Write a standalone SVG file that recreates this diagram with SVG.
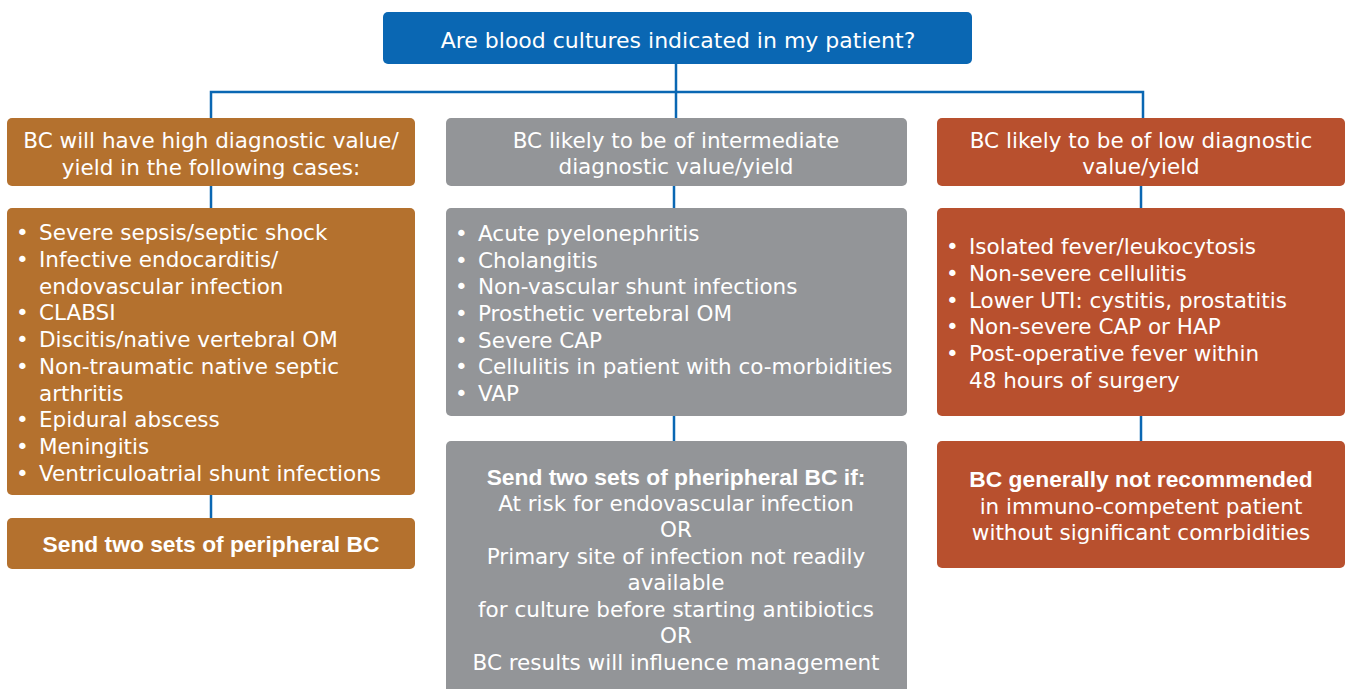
<svg xmlns="http://www.w3.org/2000/svg" width="1347" height="689" viewBox="0 0 1347 689">
  <style>
    .box { stroke: none; }
    .blue { fill: #0a67b3; }
    .high { fill: #b4712e; }
    .mid { fill: #939598; }
    .low { fill: #b8502e; }
    text { font-family: "DejaVu Sans", Verdana, sans-serif; font-size: 21.5px; fill: #ffffff; }
    .c { text-anchor: middle; }
    .q { font-size: 22px; }
    .b { font-family: "Liberation Sans", Arial, sans-serif; font-weight: bold; font-size: 22.8px; }
    .conn { stroke: #0a67b3; stroke-width: 2.5; fill: none; }
  </style>
  <rect width="1347" height="689" fill="#ffffff"/>

  <!-- connectors -->
  <g id="connectors">
    <path class="conn" d="M676 64 V118 M211 118 V92 H1143 V118"/>
    <path class="conn" d="M211 186 V208 M674 186 V208 M1141 186 V208"/>
    <path class="conn" d="M211 495 V518 M674 416 V441 M1141 416 V441"/>
  </g>

  <g id="question">
    <rect class="box blue" x="383" y="12" width="589" height="52" rx="5"/>
    <text class="c q" x="678" y="48">Are blood cultures indicated in my patient?</text>
  </g>

  <!-- high yield column -->
  <g id="high-header">
    <rect class="box high" x="7" y="118" width="408" height="68" rx="5"/>
    <text class="c" x="211" y="148">BC will have high diagnostic value/</text>
    <text class="c" x="211" y="175">yield in the following cases:</text>
  </g>
  <g id="high-list">
    <rect class="box high" x="7" y="208" width="408" height="287" rx="5"/>
    <text x="16" y="240">•</text><text x="39" y="240">Severe sepsis/septic shock</text>
    <text x="16" y="267">•</text><text x="39" y="267">Infective endocarditis/</text>
    <text x="39" y="294">endovascular infection</text>
    <text x="16" y="320">•</text><text x="39" y="320">CLABSI</text>
    <text x="16" y="347">•</text><text x="39" y="347">Discitis/native vertebral OM</text>
    <text x="16" y="374">•</text><text x="39" y="374">Non-traumatic native septic</text>
    <text x="39" y="401">arthritis</text>
    <text x="16" y="427">•</text><text x="39" y="427">Epidural abscess</text>
    <text x="16" y="454">•</text><text x="39" y="454">Meningitis</text>
    <text x="16" y="481">•</text><text x="39" y="481">Ventriculoatrial shunt infections</text>
  </g>
  <g id="high-action">
    <rect class="box high" x="7" y="518" width="408" height="51" rx="5"/>
    <text class="c b" x="211" y="552">Send two sets of peripheral BC</text>
  </g>

  <!-- intermediate yield column -->
  <g id="mid-header">
    <rect class="box mid" x="446" y="118" width="461" height="68" rx="5"/>
    <text class="c" x="676" y="148">BC likely to be of intermediate</text>
    <text class="c" x="676" y="174">diagnostic value/yield</text>
  </g>
  <g id="mid-list">
    <rect class="box mid" x="446" y="208" width="461" height="208" rx="5"/>
    <text x="455" y="241">•</text><text x="478" y="241">Acute pyelonephritis</text>
    <text x="455" y="268">•</text><text x="478" y="268">Cholangitis</text>
    <text x="455" y="294">•</text><text x="478" y="294">Non-vascular shunt infections</text>
    <text x="455" y="321">•</text><text x="478" y="321">Prosthetic vertebral OM</text>
    <text x="455" y="348">•</text><text x="478" y="348">Severe CAP</text>
    <text x="455" y="374">•</text><text x="478" y="374">Cellulitis in patient with co-morbidities</text>
    <text x="455" y="401">•</text><text x="478" y="401">VAP</text>
  </g>
  <g id="mid-action">
    <rect class="box mid" x="446" y="441" width="461" height="260" rx="5"/>
    <text class="c b" x="676" y="485">Send two sets of pheripheral BC if:</text>
    <text class="c" x="676" y="511">At risk for endovascular infection</text>
    <text class="c" x="676" y="537">OR</text>
    <text class="c" x="676" y="564">Primary site of infection not readily</text>
    <text class="c" x="676" y="590">available</text>
    <text class="c" x="676" y="617">for culture before starting antibiotics</text>
    <text class="c" x="676" y="643">OR</text>
    <text class="c" x="676" y="670">BC results will influence management</text>
  </g>

  <!-- low yield column -->
  <g id="low-header">
    <rect class="box low" x="937" y="118" width="408" height="68" rx="5"/>
    <text class="c" x="1141" y="148">BC likely to be of low diagnostic</text>
    <text class="c" x="1141" y="174">value/yield</text>
  </g>
  <g id="low-list">
    <rect class="box low" x="937" y="208" width="408" height="208" rx="5"/>
    <text x="946" y="254">•</text><text x="969" y="254">Isolated fever/leukocytosis</text>
    <text x="946" y="281">•</text><text x="969" y="281">Non-severe cellulitis</text>
    <text x="946" y="308">•</text><text x="969" y="308">Lower UTI: cystitis, prostatitis</text>
    <text x="946" y="334">•</text><text x="969" y="334">Non-severe CAP or HAP</text>
    <text x="946" y="361">•</text><text x="969" y="361">Post-operative fever within</text>
    <text x="969" y="388">48 hours of surgery</text>
  </g>
  <g id="low-action">
    <rect class="box low" x="937" y="441" width="408" height="127" rx="5"/>
    <text class="c b" x="1141" y="487">BC generally not recommended</text>
    <text class="c" x="1141" y="514">in immuno-competent patient</text>
    <text class="c" x="1141" y="540">without significant comrbidities</text>
  </g>
</svg>
